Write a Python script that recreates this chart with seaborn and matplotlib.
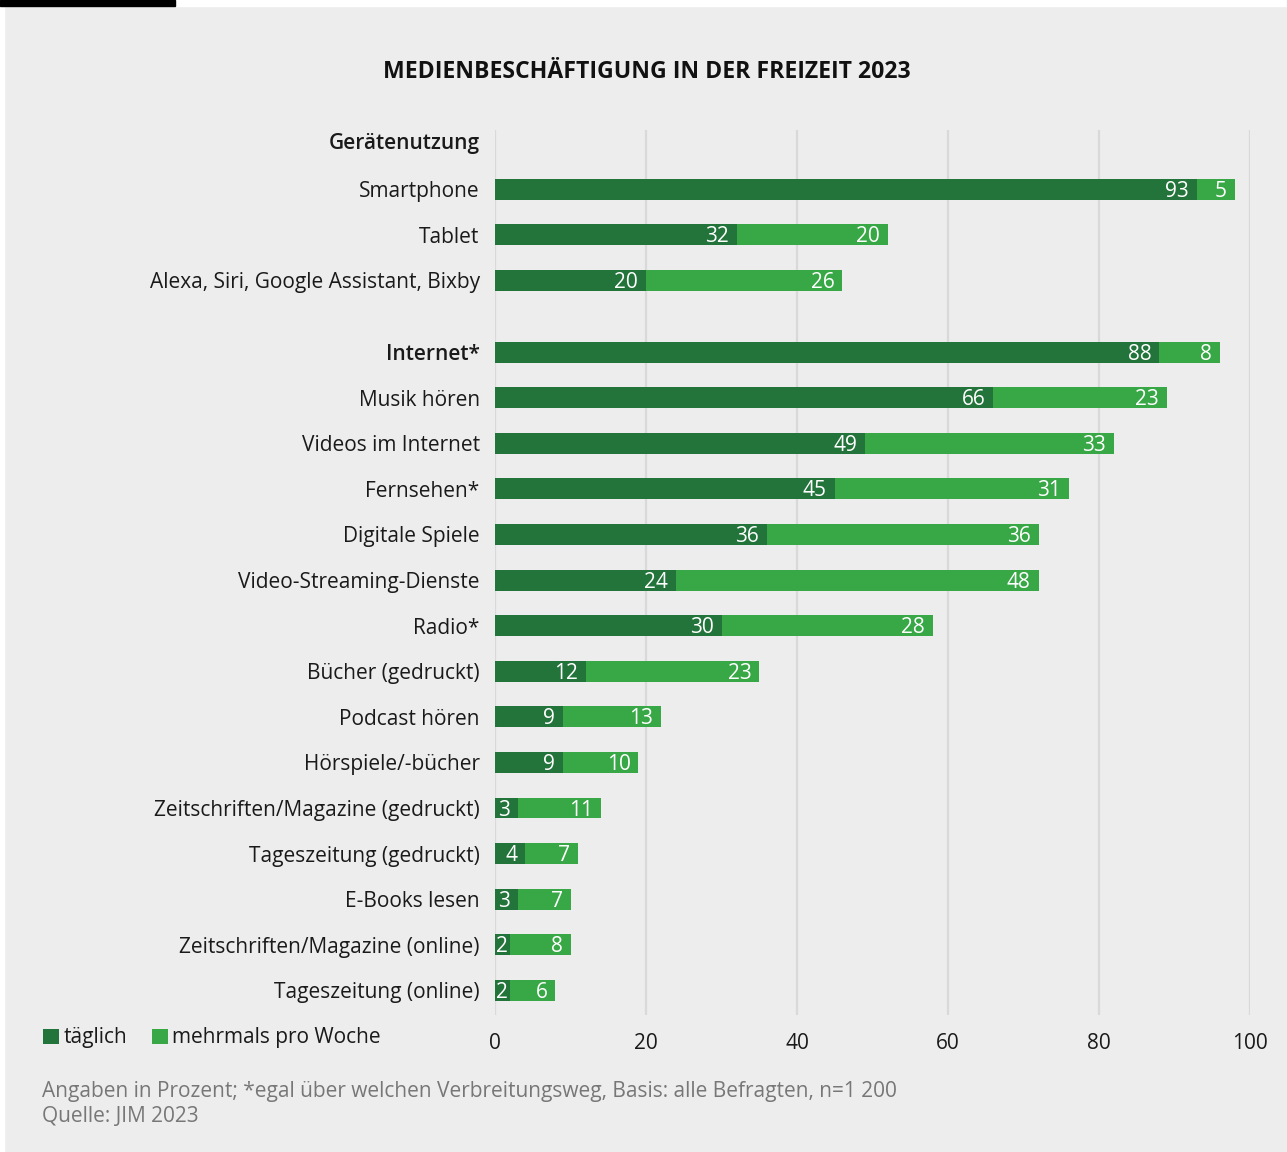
import matplotlib
matplotlib.use("Agg")
import matplotlib.pyplot as plt
from matplotlib.patches import Rectangle, Patch
import seaborn as sns
import pandas as pd

# --- data -------------------------------------------------------------
geraete = ["Smartphone", "Tablet", "Alexa, Siri, Google Assistant, Bixby"]
geraete_taeglich = [93, 32, 20]
geraete_woche = [5, 20, 26]

medien = ["Internet*", "Musik hören", "Videos im Internet", "Fernsehen*",
          "Digitale Spiele", "Video-Streaming-Dienste", "Radio*",
          "Bücher (gedruckt)", "Podcast hören", "Hörspiele/-bücher",
          "Zeitschriften/Magazine (gedruckt)", "Tageszeitung (gedruckt)",
          "E-Books lesen", "Zeitschriften/Magazine (online)",
          "Tageszeitung (online)"]
medien_taeglich = [88, 66, 49, 45, 36, 24, 30, 12, 9, 9, 3, 4, 3, 2, 2]
medien_woche = [8, 23, 33, 31, 36, 48, 28, 23, 13, 10, 11, 7, 7, 8, 6]

x_ticks = [0, 20, 40, 60, 80, 100]
group_header = "Gerätenutzung"
series_names = ["täglich", "mehrmals pro Woche"]
title = "MEDIENBESCHÄFTIGUNG IN DER FREIZEIT 2023"
note = "Angaben in Prozent; *egal über welchen Verbreitungsweg, Basis: alle Befragten, n=1 200"
source = "Quelle: JIM 2023"

# --- layout / style ---------------------------------------------------
DARK = "#23743A"
LIGHT = "#38A846"
BG = "#EDEDED"
GRID = "#D9D9D9"
FS = 15

sns.set_theme(style="white")
plt.rcParams["font.family"] = ["Open Sans", "DejaVu Sans"]

# row positions: second group starts after a gap
pos_geraete = [float(i) for i in range(len(geraete))]
medien_start = 3.57
pos_medien = [medien_start + i for i in range(len(medien))]
header_pos = -1.05

df = pd.DataFrame({
    "name": geraete + medien,
    "pos": pos_geraete + pos_medien,
    "taeglich": geraete_taeglich + medien_taeglich,
    "woche": geraete_woche + medien_woche,
})
df["gesamt"] = df["taeglich"] + df["woche"]

W, H = 1287, 1152
fig = plt.figure(figsize=(W / 100, H / 100), dpi=100, facecolor=BG)
# white margin strips and the black marker bar at the top edge
fig.patches.append(Rectangle((0, 0), 4 / W, 1, transform=fig.transFigure,
                             color="white", zorder=0))
fig.patches.append(Rectangle((0, 1 - 6 / H), 1, 6 / H, transform=fig.transFigure,
                             color="white", zorder=0))
fig.patches.append(Rectangle((0, 1 - 6 / H), 175 / W, 6 / H,
                             transform=fig.transFigure, color="black", zorder=0))

ax_l, ax_r, ax_t, ax_b = 495, 1250, 130, 1015
ax = fig.add_axes([ax_l / W, 1 - ax_b / H, (ax_r - ax_l) / W, (ax_b - ax_t) / H])
ax.set_zorder(2)
ax.set_facecolor(BG)

bar_w = 0.46
sns.barplot(data=df, x="gesamt", y="pos", orient="y", native_scale=True,
            color=LIGHT, saturation=1, width=bar_w, ax=ax, zorder=2,
            edgecolor="none", linewidth=0)
sns.barplot(data=df, x="taeglich", y="pos", orient="y", native_scale=True,
            color=DARK, saturation=1, width=bar_w, ax=ax, zorder=3,
            edgecolor="none", linewidth=0)

ax.set_xlim(0, 100)
ax.set_ylim(18.11, -1.3)
ax.set_xlabel("")
ax.set_ylabel("")

for x in x_ticks:
    ax.axvline(x, color=GRID, lw=1.6, zorder=1)
for s in ax.spines.values():
    s.set_visible(False)

ax.set_xticks(x_ticks)
ax.set_xticklabels([str(t) for t in x_ticks])
ax.tick_params(axis="x", length=0, pad=13, labelsize=FS, labelcolor="#1a1a1a")

ax.set_yticks([header_pos] + list(df["pos"]))
ax.set_yticklabels([group_header] + list(df["name"]))
ax.tick_params(axis="y", length=0, pad=11, labelsize=FS, labelcolor="#1a1a1a")
for lbl in ax.get_yticklabels():
    if lbl.get_text() in (group_header, "Internet*"):
        lbl.set_fontweight("semibold")

# value labels at the right end of each segment; narrow segments get
# their label left-aligned at the segment start instead
fig.canvas.draw()
renderer = fig.canvas.get_renderer()
px_per_unit = ax.transData.transform((1, 0))[0] - ax.transData.transform((0, 0))[0]
pad_px = 8
digit_nudge = 0.045  # digits sit optically centred on the bar


def put_label(value, start, end, y):
    t = ax.text(end - pad_px / px_per_unit, y + digit_nudge, str(value),
                ha="right", va="center", color="white", fontsize=FS, zorder=5)
    width_units = t.get_window_extent(renderer).width / px_per_unit
    if end - pad_px / px_per_unit - width_units < start + 1 / px_per_unit:
        t.set_ha("left")
        t.set_x(start + 1 / px_per_unit)


for _, r in df.iterrows():
    put_label(r["taeglich"], 0, r["taeglich"], r["pos"])
    put_label(r["woche"], r["taeglich"], r["gesamt"], r["pos"])

fig.text(647 / W, 1 - 72 / H, title, ha="center", va="center",
         fontsize=16.6, fontweight="bold", color="#111111")

handles = [Patch(facecolor=DARK, edgecolor="none"),
           Patch(facecolor=LIGHT, edgecolor="none")]
fig.legend(handles, series_names, loc="center left",
           bbox_to_anchor=(33 / W, 1 - 1038 / H), ncol=2, frameon=False,
           fontsize=FS, handlelength=0.75, handleheight=0.75,
           handletextpad=0.2, columnspacing=1.2, borderpad=0,
           labelcolor="#1a1a1a")

fig.text(42 / W, 1 - 1092 / H, note, ha="left", va="center",
         fontsize=FS, color="#777777")
fig.text(42 / W, 1 - 1117 / H, source, ha="left", va="center",
         fontsize=FS, color="#777777")

fig.savefig("out.png", dpi=100, facecolor=fig.get_facecolor())
